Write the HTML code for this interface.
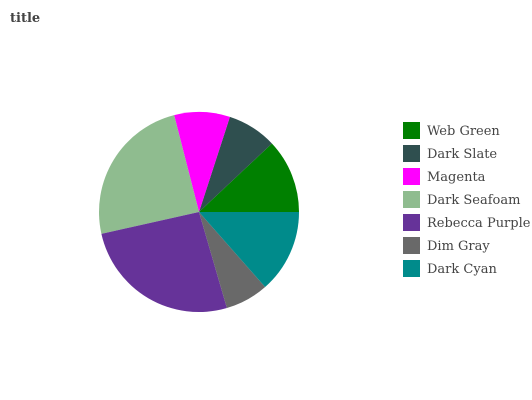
<!DOCTYPE html>
<html><head><meta charset="utf-8"><style>
body{margin:0;background:#fff;}
svg{display:block;}
</style></head><body>
<svg width="532" height="400" xmlns="http://www.w3.org/2000/svg">
<text x="10" y="22" font-family="'DejaVu Serif', serif" font-weight="bold" font-size="13" fill="#444">title</text>
<g id="slices"></g>
<g id="legend"></g>
</svg>
<script>
const categories = ["Web Green","Dark Slate","Magenta","Dark Seafoam","Rebecca Purple","Dim Gray","Dark Cyan"];
const values = [12,8,9,24.5,26,7,13.5];
const colors = ["#008000","#2f4f4f","#ff00ff","#8fbc8f","#663399","#696969","#008b8b"];
const NS="http://www.w3.org/2000/svg";
const cx=199, cy=212, r=100;
const total=values.reduce((a,b)=>a+b,0);
const sg=document.getElementById('slices');
let a0=0;
values.forEach((v,i)=>{
  const a1=a0+v/total*2*Math.PI;
  const x0=cx+r*Math.cos(a0), y0=cy-r*Math.sin(a0);
  const x1=cx+r*Math.cos(a1), y1=cy-r*Math.sin(a1);
  const large=(a1-a0)>Math.PI?1:0;
  const p=document.createElementNS(NS,'path');
  p.setAttribute('d',`M${cx},${cy}L${x0},${y0}A${r},${r} 0 ${large} 0 ${x1},${y1}Z`);
  p.setAttribute('fill',colors[i]);
  
  
  sg.appendChild(p);
  a0=a1;
});
const lg=document.getElementById('legend');
categories.forEach((c,i)=>{
  const g=document.createElementNS(NS,'g');
  
  
  const rc=document.createElementNS(NS,'rect');
  rc.setAttribute('x',403);rc.setAttribute('y',122+i*23);
  rc.setAttribute('width',17);rc.setAttribute('height',17);
  rc.setAttribute('fill',colors[i]);
  const t=document.createElementNS(NS,'text');
  t.setAttribute('x',427);t.setAttribute('y',135+i*23);
  t.setAttribute('font-family',"'DejaVu Serif', serif");
  t.setAttribute('font-size','13');t.setAttribute('fill','#444');
  t.textContent=c;
  g.appendChild(rc);g.appendChild(t);lg.appendChild(g);
});
</script>
</body></html>
